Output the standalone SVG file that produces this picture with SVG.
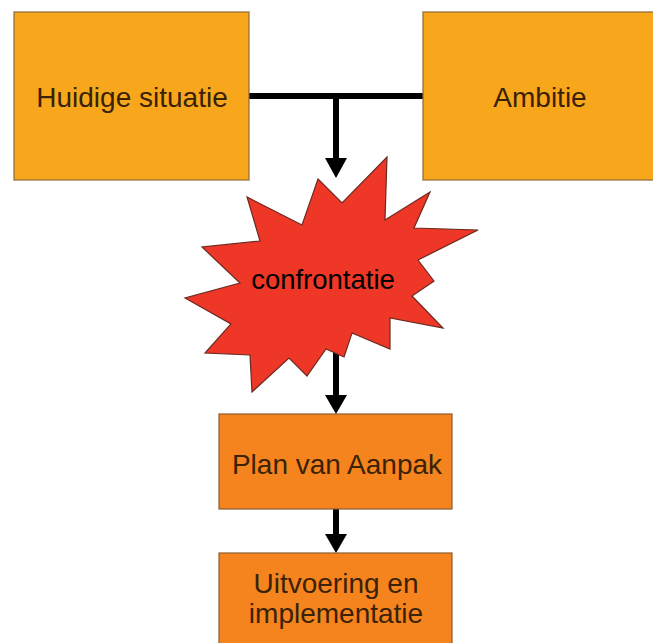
<svg xmlns="http://www.w3.org/2000/svg" width="653" height="643" viewBox="0 0 653 643">
  <style>
    .top { fill: #F8A71C; stroke: #8C6A35; stroke-width: 1.2; }
    .low { fill: #F5841F; stroke: #8C5A30; stroke-width: 1.2; }
    .lbl { font-family: "Liberation Sans", Arial, sans-serif; font-size: 28px; fill: #3A2206; text-anchor: middle; }
    .burst { fill: #EE3726; stroke: #6B2A22; stroke-width: 1.2; stroke-linejoin: miter; }
    .wire { stroke: #000; stroke-width: 6; fill: none; }
    .head { fill: #000; }
  </style>
  <rect width="653" height="643" fill="#fff"/>

  <!-- connectors: the T-join from the two top boxes, then the downward flow -->
  <g id="connectors">
    <line class="wire" x1="249" y1="96" x2="424" y2="96"/>
    <line class="wire" x1="336" y1="96" x2="336" y2="160"/>
    <path class="head" d="M325,158 L347,158 L336,178 Z"/>
    <line class="wire" x1="336" y1="350" x2="336" y2="397"/>
    <path class="head" d="M325,395 L347,395 L336,414 Z"/>
    <line class="wire" x1="336" y1="509" x2="336" y2="536"/>
    <path class="head" d="M325,534 L347,534 L336,553 Z"/>
  </g>

  <g id="huidige-situatie">
    <rect class="top" x="14" y="12" width="235" height="168"/>
    <text class="lbl" x="132" y="107">Huidige situatie</text>
  </g>

  <g id="ambitie">
    <rect class="top" x="423" y="12" width="240" height="168"/>
    <text class="lbl" x="540" y="107">Ambitie</text>
  </g>

  <g id="confrontatie">
    <polygon class="burst" points="318,179 342,203 387,157 385,220 430,192 414,228 478,230 418,260 434,281 412,296 443,328 390,318 390,349 352,333 344,357 326,349 307,376 289,358 252,392 250,355 205,353 231,324 185,298 240,283 202,247 260,241 247,197 302,225"/>
    <text x="323" y="289" font-family="'Liberation Sans', Arial, sans-serif" font-size="27.5" fill="#000" text-anchor="middle">confrontatie</text>
  </g>

  <g id="plan-van-aanpak">
    <rect class="low" x="219" y="414" width="233" height="95"/>
    <text class="lbl" x="337" y="474">Plan van Aanpak</text>
  </g>

  <g id="uitvoering">
    <rect class="low" x="219" y="553" width="233" height="100"/>
    <text class="lbl" x="336" y="593">Uitvoering en</text>
    <text class="lbl" x="336" y="623">implementatie</text>
  </g>
</svg>
